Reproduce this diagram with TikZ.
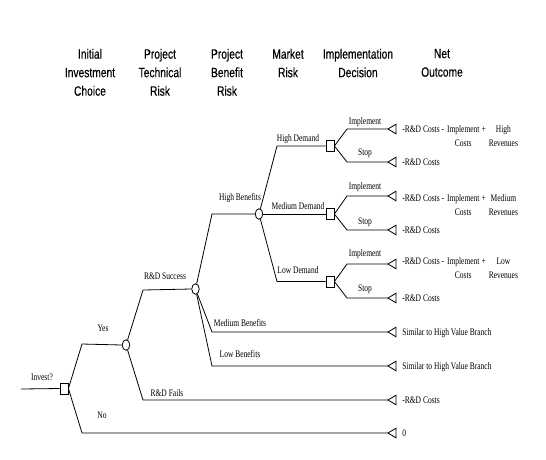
\documentclass[tikz,border=0pt]{standalone}
\usepackage{fontspec}
\usetikzlibrary{shapes.geometric}
\newfontfamily\hdrfont[FakeStretch=0.76,FakeBold=0.4]{Liberation Sans}
\newfontfamily\trfont[FakeStretch=0.75]{Liberation Serif}
\newcommand\termtri[2]{\coordinate (#1) at (388,#2);
  \draw[line join=miter] (#1) -- ++(8,-4.8) -- ++(0,9.6) -- cycle;}
\begin{document}
\begin{tikzpicture}[x=1pt,y=-1pt,
  hdr/.style={font=\hdrfont\fontsize{13.5}{18.5}\selectfont, align=center, anchor=north, inner sep=0},
  lbl/.style={font=\trfont\fontsize{10}{12}\selectfont, inner sep=0},
  outc/.style={font=\trfont\fontsize{10}{14}\selectfont, inner sep=0, anchor=base west},
  dec/.style={rectangle, draw, minimum width=8pt, minimum height=11pt, inner sep=0, fill=white},
  chance/.style={ellipse, draw, minimum width=7.5pt, minimum height=10.5pt, inner sep=0, fill=white},
  every path/.style={line width=0.8pt}]
\useasboundingbox (0,0) rectangle (546,459);

% headers
\node[hdr] (h1) at (90,48.5) {Initial\\Investment\\Choice};
\node[hdr] (h2) at (160,48.5) {Project\\Technical\\Risk};
\node[hdr] (h3) at (227,48.5) {Project\\Benefit\\Risk};
\node[hdr] (h4) at (288,48.5) {Market\\Risk};
\node[hdr] (h5) at (358,48.5) {Implementation\\Decision};
\node[hdr] (h6) at (442,48.5) {Net\\Outcome};

% nodes
\coordinate (start) at (21,389);
\node[dec] (inv) at (64,388.5) {};
\node[chance] (c1) at (126,345) {};
\node[chance] (c2) at (195.5,289) {};
\node[chance] (c3) at (259,214) {};
\node[dec] (dhd) at (330,146) {};
\node[dec] (dmd) at (330,214) {};
\node[dec] (dld) at (330,281.5) {};

% terminals
\termtri{thi}{129}
\termtri{ths}{162}
\termtri{tmi}{196}
\termtri{tms}{230}
\termtri{tli}{264}
\termtri{tls}{298}
\termtri{tmb}{332}
\termtri{tlb}{366}
\termtri{tfl}{400}
\termtri{tno}{433}

% elbows
\coordinate (eyes) at (82,344);
\coordinate (eno) at (82,433);
\coordinate (esu) at (143,290);
\coordinate (efl) at (143,400);
\coordinate (ehb) at (212,214);
\coordinate (emb) at (212,332);
\coordinate (elb) at (212,366);
\coordinate (ehd) at (277,146);
\coordinate (eld) at (277,281.5);
\coordinate (ehi) at (347,129);
\coordinate (ehs) at (347,162);
\coordinate (emi) at (347,196);
\coordinate (ems) at (347,230);
\coordinate (eli) at (347,264);
\coordinate (els) at (347,298);

% connectors
\draw (start) -- (inv.west);
\draw (inv.east) -- (eyes) -- (c1.west);
\draw (inv.east) -- (eno) -- (tno);
\draw (c1) -- (esu) -- (c2.west);
\draw (c1) -- (efl) -- (tfl);
\draw (c2) -- (ehb) -- (c3.west);
\draw (c2) -- (emb) -- (tmb);
\draw (c2) -- (elb) -- (tlb);
\draw (c3) -- (ehd) -- (dhd.west);
\draw (c3.east) -- (dmd.west);
\draw (c3) -- (eld) -- (dld.west);
\draw (dhd.east) -- (ehi) -- (thi);
\draw (dhd.east) -- (ehs) -- (ths);
\draw (dmd.east) -- (emi) -- (tmi);
\draw (dmd.east) -- (ems) -- (tms);
\draw (dld.east) -- (eli) -- (tli);
\draw (dld.east) -- (els) -- (tls);

% branch labels
\node[lbl] (linv) at (42,377) {Invest?};
\node[lbl] (lyes) at (103,328) {Yes};
\node[lbl] (lno) at (102,415) {No};
\node[lbl] (lsu) at (165,276) {R\&D Success};
\node[lbl] (lfl) at (167,393) {R\&D Fails};
\node[lbl] (lhb) at (240,198) {High Benefits};
\node[lbl] (lmb) at (240,323) {Medium Benefits};
\node[lbl] (llb) at (240,354) {Low Benefits};
\node[lbl] (lhd) at (298,139) {High Demand};
\node[lbl] (lmd) at (298,206) {Medium Demand};
\node[lbl] (lld) at (298,270) {Low Demand};
\node[lbl] (lhi) at (365,122) {Implement};
\node[lbl] (lhs) at (365,153) {Stop};
\node[lbl] (lmi) at (365,187) {Implement};
\node[lbl] (lms) at (365,222) {Stop};
\node[lbl] (lli) at (365,254) {Implement};
\node[lbl] (lls) at (365,289) {Stop};

% outcomes
\node[outc] (ohi) at (402,132) {\begin{tabular}[t]{@{}l@{\hspace{3pt}}c@{\hspace{2pt}}l@{\hspace{3pt}}c@{}}-R\&D Costs -&Implement&+&High\\&Costs&&Revenues\end{tabular}};
\node[outc] (ohs) at (402,165) {-R\&D Costs};
\node[outc] (omi) at (402,201) {\begin{tabular}[t]{@{}l@{\hspace{3pt}}c@{\hspace{2pt}}l@{\hspace{3pt}}c@{}}-R\&D Costs -&Implement&+&Medium\\&Costs&&Revenues\end{tabular}};
\node[outc] (oms) at (402,233) {-R\&D Costs};
\node[outc] (oli) at (402,264) {\begin{tabular}[t]{@{}l@{\hspace{3pt}}c@{\hspace{2pt}}l@{\hspace{3pt}}c@{}}-R\&D Costs -&Implement&+&Low\\&Costs&&Revenues\end{tabular}};
\node[outc] (ols) at (402,301) {-R\&D Costs};
\node[outc] (omb) at (402,335) {Similar to High Value Branch};
\node[outc] (olb) at (402,369) {Similar to High Value Branch};
\node[outc] (ofl) at (402,403) {-R\&D Costs};
\node[outc] (ono) at (402,436) {0};
\end{tikzpicture}
\end{document}
